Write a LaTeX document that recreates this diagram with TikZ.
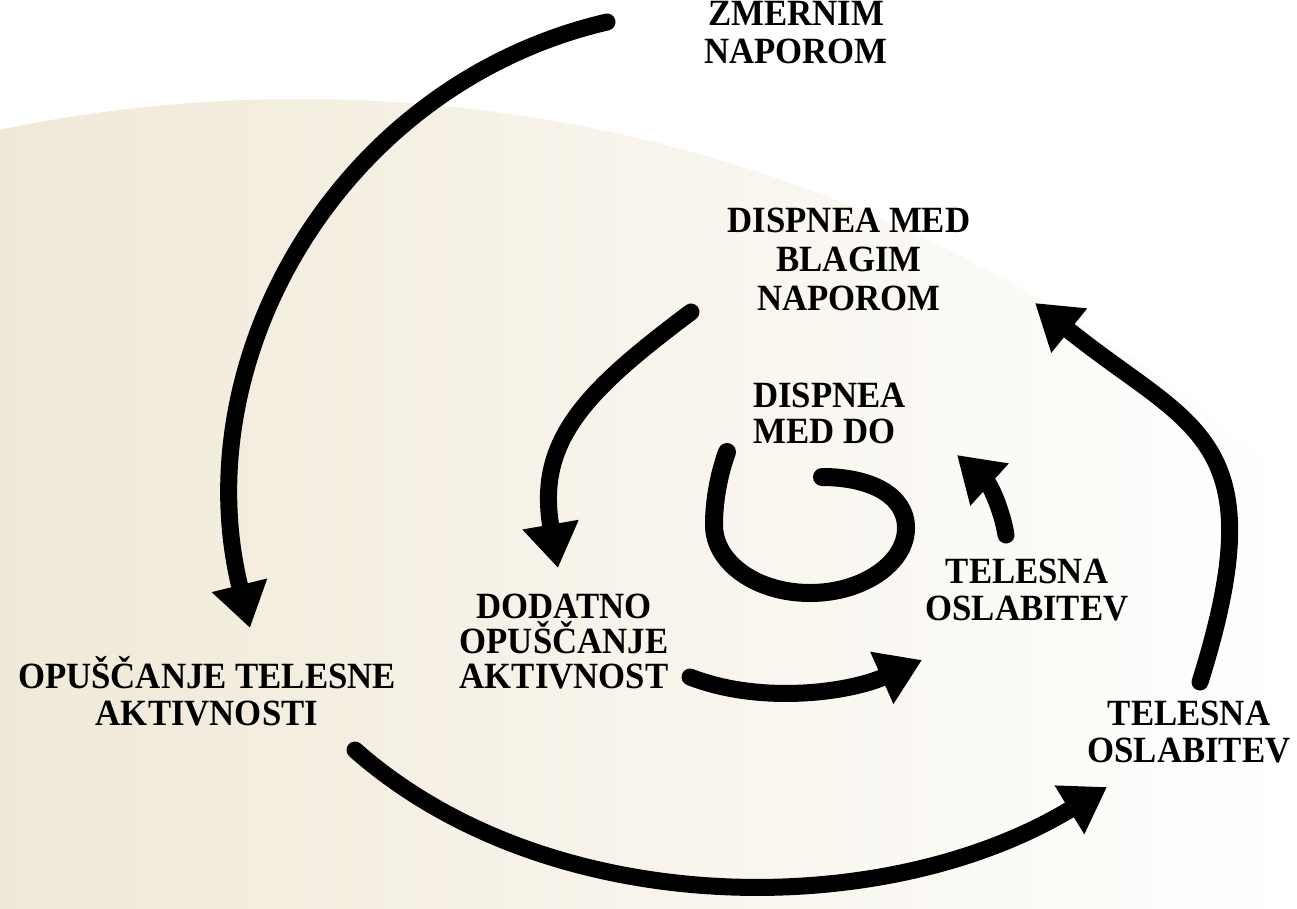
\documentclass[tikz,border=0pt]{standalone}
\usepackage{fontspec}
\setmainfont{Liberation Serif}[FakeStretch=0.94]
\usetikzlibrary{arrows.meta}
\definecolor{beige}{RGB}{241,233,216}
\begin{document}
\begin{tikzpicture}[x=1pt,y=-1pt,
  lbl/.style={font=\fontsize{37}{#1}\selectfont\bfseries, align=center, inner sep=0pt},
  lbl/.default=38,
  arr/.style={line width=17pt, line cap=round, -{Triangle[width=54pt,length=44pt]}},
  loopline/.style={line width=18pt, line cap=round}]
\useasboundingbox (0,0) rectangle (1297,908);
\fill[white] (0,0) rectangle (1297,908);
\begin{scope}
  \clip (300,1566) circle [radius=1467pt];
  \shade[left color=beige, right color=white] (0,0) rectangle (1297,908);
\end{scope}

% labels (base anchor = baseline of the last line)
\node[lbl=38, anchor=base] (zmerno) at (796,63) {ZMERNIM\\NAPOROM};
\node[lbl=39, anchor=base] (blago) at (849,310) {DISPNEA MED\\BLAGIM\\NAPOROM};
\node[lbl=36, align=left, anchor=base west] (medDo) at (753,443) {DISPNEA\\MED DO};
\node[lbl=37, anchor=base] (telIn) at (1027,620) {TELESNA\\OSLABITEV};
\node[lbl=35, anchor=base] (dodatno) at (564,688) {DODATNO\\OPUŠČANJE\\AKTIVNOST};
\node[lbl=37, anchor=base] (opusc) at (207,725) {OPUŠČANJE TELESNE\\AKTIVNOSTI};
\node[lbl=37, anchor=base] (telOut) at (1189,762) {TELESNA\\OSLABITEV};

% connector ends
\coordinate (a1s) at (607,22);   \coordinate (a1e) at (250,628);
\coordinate (a2s) at (355,750);  \coordinate (a2e) at (1107,787);
\coordinate (a3s) at (1200,682); \coordinate (a3e) at (1035,303);
\coordinate (a4s) at (691,312);  \coordinate (a4e) at (558,568);
\coordinate (a5s) at (690,677);  \coordinate (a5e) at (922,660);
\coordinate (a6s) at (1006,535); \coordinate (a6e) at (957,455);
\coordinate (cS) at (727,452);   \coordinate (cE) at (822,477);

\draw[arr] (a1s) .. controls (338,85) and (184,360) .. (a1e);
\draw[arr] (a2s) .. controls (550,922) and (885,922) .. (a2e);
\draw[arr] (a3s) .. controls (1278,434) and (1191,429) .. (a3e);
\draw[arr] (a4s) .. controls (587,390) and (536,440) .. (a4e);
\draw[arr] (a5s) .. controls (762,705) and (850,692) .. (a5e);
\draw[arr] (a6s) .. controls (1002,510) and (990,485) .. (a6e);
\draw[loopline] (cS) .. controls (719,474) and (714,500) .. (714,525)
  .. controls (714,563) and (757,593) .. (810,593)
  .. controls (863,593) and (906,563) .. (906,528)
  .. controls (906,495) and (870,477) .. (cE);
\end{tikzpicture}
\end{document}
